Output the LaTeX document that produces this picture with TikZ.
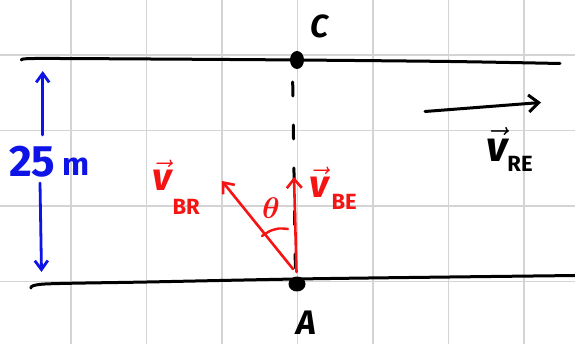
\documentclass[tikz,border=0pt]{standalone}
\usepackage{fontspec}
\setmainfont{Fira Sans}
\usetikzlibrary{arrows.meta,shapes.geometric}
\definecolor{gridc}{RGB}{212,212,212}
\definecolor{penred}{RGB}{245,20,20}
\definecolor{penblue}{RGB}{15,20,230}
\newcommand\bigvec[1]{\scalebox{#1}{\Huge$\vec{\mbox{\bfseries\itshape v}}$}}
\begin{document}
\begin{tikzpicture}[x=1pt,y=-1pt,line cap=round,line join=round,
  gridline/.style={gridc,line width=1.2pt},
  bank/.style={black,line width=3pt},
  dot/.style={ellipse,fill=black,inner sep=0pt},
  redvec/.style={penred,line width=2.6pt,-{Straight Barb[length=9pt,width=15pt,line width=2.6pt]}},
  bluevec/.style={penblue,line width=2.8pt,-{Straight Barb[length=9pt,width=13pt,line width=2.8pt]}},
  blackvec/.style={black,line width=3pt,-{Straight Barb[length=10pt,width=17pt,line width=3pt]}},
  vlabel/.style={inner sep=0pt,anchor=base west},
  ptlabel/.style={inner sep=0pt}]
\fill[white] (0,0) rectangle (575,344);
\useasboundingbox (0,0) rectangle (575,344);
\begin{scope}
  \clip (0,0) rectangle (575,344);
  \foreach \x in {-4.5,71,146.5,222,297.5,373,448.5,524}
    \draw[gridline] (\x,0) -- (\x,344);
  \foreach \y in {55,130.5,206,281.5}
    \draw[gridline] (0,\y) -- (575,\y);
\end{scope}
% river banks
\draw[bank] plot[smooth] coordinates {(22,60) (35,58.5) (150,59) (297,60) (450,61.5) (560,63.5)};
\draw[bank] plot[smooth] coordinates {(31,288) (45,284) (147,282) (297,279) (450,277) (576,275.5)};
% points
\node[dot,minimum width=14pt,minimum height=18pt] (C) at (297,60) {};
\node[dot,minimum width=17pt,minimum height=15pt] (A) at (297,284) {};
\node[ptlabel,font=\fontsize{32}{32}\selectfont\bfseries\itshape] (Clab) at (320,26) {C};
\node[ptlabel,font=\fontsize{34}{34}\selectfont\bfseries\itshape] (Alab) at (306,323) {A};
% dashed line C-A
\coordinate (Ctop) at (292.5,68);
\coordinate (Abot) at (295.5,278);
\draw[black,line width=3pt,dash pattern=on 14pt off 29pt,dash phase=29pt] (Ctop) -- (Abot);
% red vectors
\coordinate (Abe) at (296.5,272);
\coordinate (BEtip) at (294,177);
\coordinate (Abr) at (293,269);
\coordinate (BRtip) at (222,181);
\draw[redvec] (Abr) -- (BRtip);
\draw[redvec] (Abe) -- (BEtip);
\draw[penred,line width=2.4pt] plot[smooth] coordinates {(262,236) (270,231) (279,228.5) (288,229)};
\node[penred,inner sep=0pt] (th) at (271,208) {\scalebox{1.2}{\Huge\boldmath$\theta$}};
\node[vlabel,penred] (vbr) at (152,191) {\bigvec{1.55}\hspace{1pt}\raisebox{-24pt}{\fontsize{22}{22}\selectfont\bfseries BR}};
\node[vlabel,penred] (vbe) at (309,198) {\bigvec{1.55}\hspace{3pt}\raisebox{-12pt}{\fontsize{22}{22}\selectfont\bfseries BE}};
% river velocity
\coordinate (REs) at (425,111.5);
\coordinate (REe) at (541,102.5);
\draw[blackvec] (REs) -- (REe);
\node[vlabel,black] (vre) at (486,162) {\bigvec{1.7}\hspace{0pt}\raisebox{-10pt}{\fontsize{22}{22}\selectfont\bfseries RE}};
% width
\coordinate (Bu0) at (42.7,135);
\coordinate (Bu1) at (42.7,71);
\coordinate (Bd0) at (40,183);
\coordinate (Bd1) at (41.5,272);
\draw[bluevec] (Bu0) -- (Bu1);
\draw[bluevec] (Bd0) -- (Bd1);
\node[vlabel,penblue] (w) at (9,177) {{\fontsize{44}{44}\selectfont\bfseries 25}\hspace{7pt}\raisebox{1pt}{\fontsize{32}{32}\selectfont\bfseries m}};
\end{tikzpicture}
\end{document}
